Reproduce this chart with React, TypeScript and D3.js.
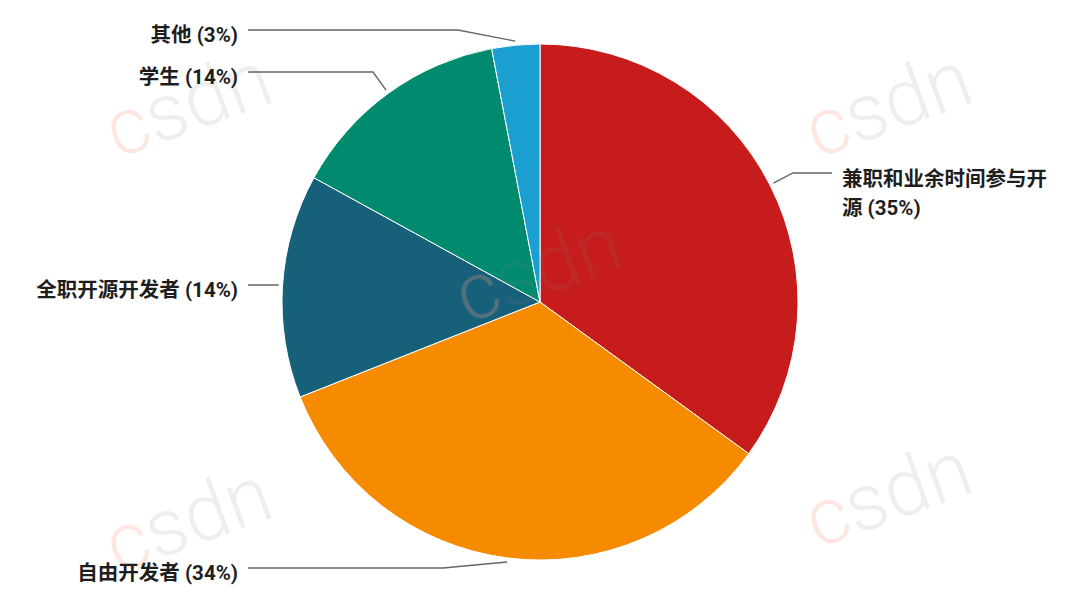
import React, { useRef, useEffect } from "react";
import * as d3 from "d3";

// shares of respondents, clockwise from 12 o'clock
const categories = ["兼职和业余时间参与开源", "自由开发者", "全职开源开发者", "学生", "其他"];
const shares = [35, 34, 14, 14, 3];
const colors = ["#c71c1c", "#f68b00", "#17607a", "#008b6f", "#1b9ed0"];

// label layout: line y, elbow x
const labelY = [173, 568, 285, 72, 30];
const elbowX = [793, 443, 278, 373, 458];
const watermarks: [number, number][] = [
  [190, 110], [890, 110], [540, 275], [190, 525], [890, 500],
];

const App = () => {
  const node: any = useRef();

  useEffect(() => {
    const width = 1080, height = 606;
    const cx = 540, cy = 302, r = 258;
    const svg = d3.select(node.current).attr("width", width).attr("height", height);
    svg.selectAll("*").remove();
    svg.append("rect").attr("width", width).attr("height", height).attr("fill", "#fff");

    const data = categories.map((c, i) => ({ label: c, value: shares[i], color: colors[i], i }));
    const pie = d3.pie<any>().sort(null).value((d) => d.value);
    const arcs = pie(data);
    const arc = d3.arc<any>().innerRadius(0).outerRadius(r);

    const g = svg.append("g").attr("transform", `translate(${cx},${cy})`);
    g.selectAll("path")
      .data(arcs)
      .enter()
      .append("path")
      .attr("d", arc)
      .attr("fill", (d: any) => d.data.color)
      .attr("stroke", "#fff")
      .attr("stroke-width", 1);

    // watermarks
    const wm = svg.append("g").attr("font-family", "Roboto, 'Open Sans', sans-serif").attr("font-weight", 300).attr("font-size", 80);
    watermarks.forEach(([x, y]) => {
      const t = wm.append("text")
        .attr("transform", `translate(${x},${y}) rotate(-20)`)
        .attr("text-anchor", "middle")
        .attr("dominant-baseline", "middle");
      t.append("tspan").attr("fill", "rgba(250,160,130,0.25)").text("c");
      t.append("tspan").attr("fill", "rgba(120,120,120,0.13)").text("sdn");
    });

    // leader lines + labels
    const font = "Roboto, 'Noto Sans CJK SC', sans-serif";
    arcs.forEach((a: any, i: number) => {
      const mid = (a.startAngle + a.endAngle) / 2;
      const sx = cx + (r + 4) * Math.sin(mid);
      const sy = cy - (r + 4) * Math.cos(mid);
      const right = Math.sin(mid) > 0;
      const endX = right ? 832 : 248;
      const ly = labelY[i];
      svg.append("polyline")
        .attr("points", `${sx},${sy} ${elbowX[i]},${ly} ${endX},${ly}`)
        .attr("fill", "none")
        .attr("stroke", "#666")
        .attr("stroke-width", 1.4);

      const text = svg.append("text")
        .attr("font-family", font)
        .attr("font-weight", "bold")
        .attr("font-size", 20.5)
        .attr("fill", "#1e1e1e")
        .attr("text-anchor", right ? "start" : "end");
      if (right) {
        const first = a.data.label.slice(0, 10);
        const rest = `${a.data.label.slice(10)} (${a.data.value}%)`;
        text.append("tspan").attr("x", 842).attr("y", ly + 13).text(first);
        text.append("tspan").attr("x", 842).attr("y", ly + 42).text(rest);
      } else {
        text.attr("x", 238).attr("y", ly + 12).text(`${a.data.label} (${a.data.value}%)`);
      }
    });
  }, []);

  return (
    <div style={{ position: "absolute", left: 0, top: 0 }}>
      <svg ref={node}></svg>
    </div>
  );
};

export default App;
